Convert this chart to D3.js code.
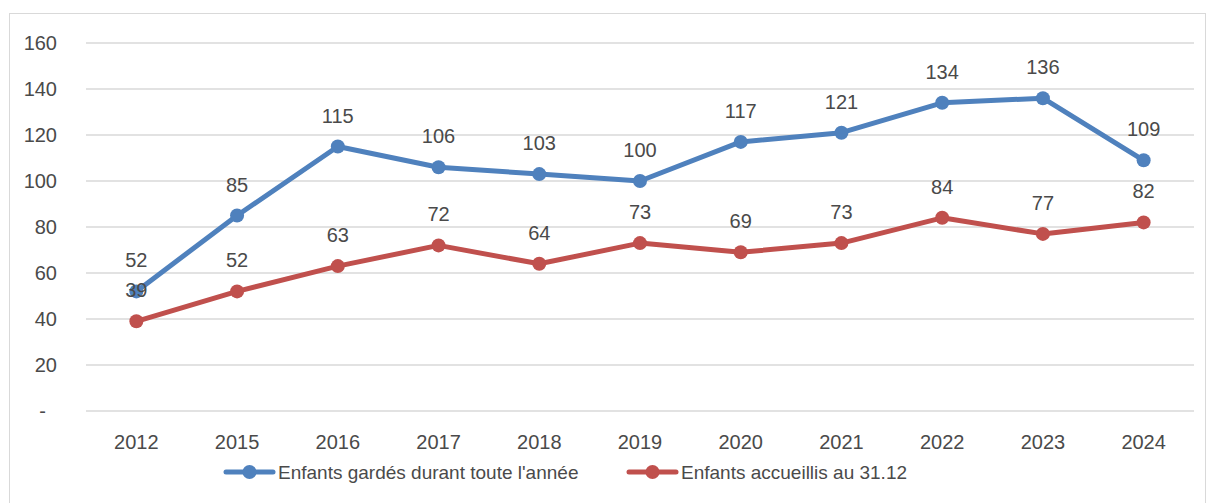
<!DOCTYPE html>
<html>
<head>
<meta charset="utf-8">
<script src="https://cdn.jsdelivr.net/npm/d3@7"></script>
<style>
  body { margin: 0; background: #fff; }
  svg text { font-family: "Liberation Sans", Arial, sans-serif; fill: #4a4a4a; }
</style>
</head>
<body>
<div id="chart"></div>
<script>
// data
let years = ["2012", "2015", "2016", "2017", "2018", "2019", "2020", "2021", "2022", "2023", "2024"];
let gardes = [52, 85, 115, 106, 103, 100, 117, 121, 134, 136, 109];
let accueillis = [39, 52, 63, 72, 64, 73, 69, 73, 84, 77, 82];
let yTicks = [0, 20, 40, 60, 80, 100, 120, 140, 160];
let seriesNames = ["Enfants gardés durant toute l'année", "Enfants accueillis au 31.12"];
let seriesColors = ["#4F81BD", "#C0504D"];

let width = 1206, height = 503;
let margin = {top: 43, right: 12, bottom: 92, left: 86};

let svg = d3.select("#chart").append("svg")
    .attr("width", width)
    .attr("height", height);

// chart border
svg.append("rect")
    .attr("x", 9.5).attr("y", 13.5)
    .attr("width", width - 10).attr("height", height - 13)
    .attr("fill", "none")
    .attr("stroke", "#d9d9d9");

let x = d3.scaleBand()
    .domain(years)
    .range([margin.left, width - margin.right]);

let y = d3.scaleLinear()
    .domain([0, 160])
    .range([height - margin.bottom, margin.top]);

// gridlines
svg.append("g")
    .selectAll("line")
    .data(yTicks)
    .join("line")
    .attr("x1", margin.left)
    .attr("x2", width - margin.right)
    .attr("y1", d => y(d))
    .attr("y2", d => y(d))
    .attr("stroke", "#d9d9d9")
    .attr("stroke-width", 1.5);

// y labels
svg.append("g")
    .selectAll("text")
    .data(yTicks)
    .join("text")
    .attr("x", d => d === 0 ? 46 : 57)
    .attr("y", d => y(d) + 7)
    .attr("text-anchor", "end")
    .style("font-size", "20px")
    .text(d => d === 0 ? "-" : d);

// x labels
svg.append("g")
    .selectAll("text")
    .data(years)
    .join("text")
    .attr("x", d => x(d) + x.bandwidth() / 2)
    .attr("y", 449)
    .attr("text-anchor", "middle")
    .style("font-size", "20px")
    .text(d => d);

let line = d3.line()
    .x((d, i) => x(years[i]) + x.bandwidth() / 2)
    .y(d => y(d));

let allSeries = [gardes, accueillis];

allSeries.forEach((values, s) => {
    let g = svg.append("g");
    g.append("path")
        .datum(values)
        .attr("d", line)
        .attr("fill", "none")
        .attr("stroke", seriesColors[s])
        .attr("stroke-width", 5)
        .attr("stroke-linejoin", "round")
        .attr("stroke-linecap", "round");
    g.selectAll("circle")
        .data(values)
        .join("circle")
        .attr("cx", (d, i) => x(years[i]) + x.bandwidth() / 2)
        .attr("cy", d => y(d))
        .attr("r", 7)
        .attr("fill", seriesColors[s]);
});

// data labels drawn after both lines so they sit on top
allSeries.forEach((values) => {
    svg.append("g")
        .selectAll("text")
        .data(values)
        .join("text")
        .attr("x", (d, i) => x(years[i]) + x.bandwidth() / 2)
        .attr("y", d => y(d) - 24)
        .attr("text-anchor", "middle")
        .style("font-size", "20px")
        .text(d => d);
});

// legend
let legendX = [226, 629];
seriesNames.forEach((name, s) => {
    let g = svg.append("g").attr("transform", "translate(" + legendX[s] + ",472)");
    g.append("line")
        .attr("x1", 0).attr("x2", 47)
        .attr("stroke", seriesColors[s])
        .attr("stroke-width", 5)
        .attr("stroke-linecap", "round");
    g.append("circle")
        .attr("cx", 23.5).attr("r", 7)
        .attr("fill", seriesColors[s]);
    g.append("text")
        .attr("x", 52)
        .attr("y", 7)
        .style("font-size", "19px")
        .text(name);
});
</script>
</body>
</html>
